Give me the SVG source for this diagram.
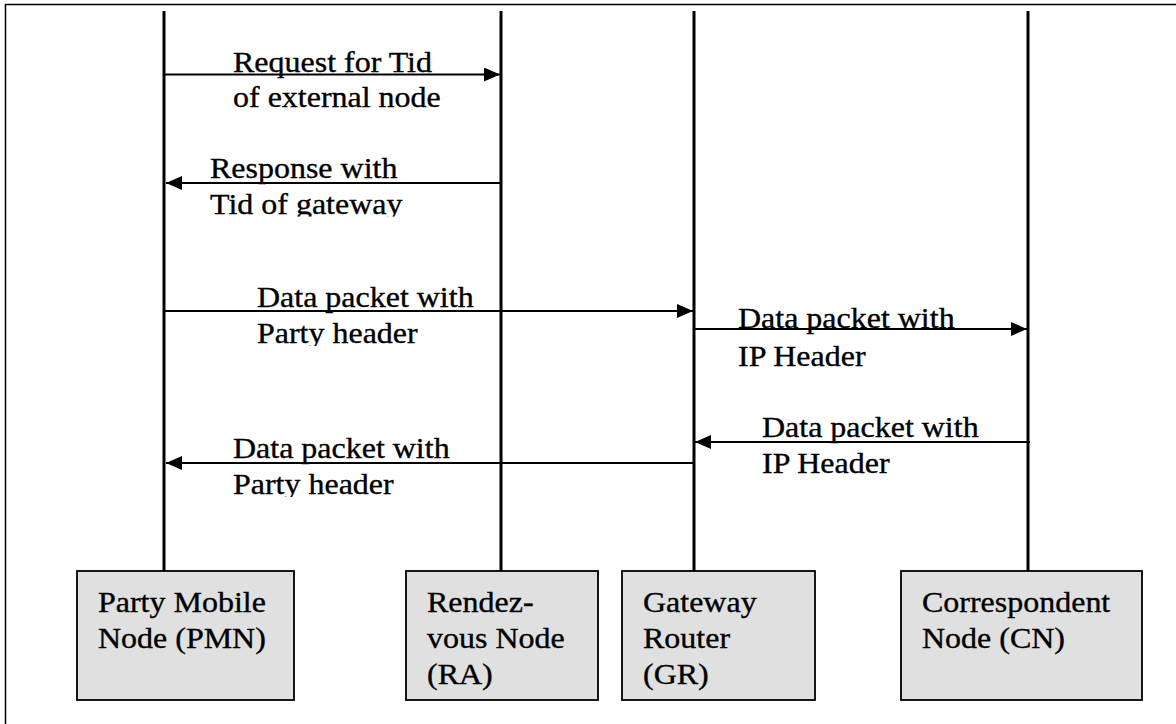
<svg xmlns="http://www.w3.org/2000/svg" width="1176" height="724" viewBox="0 0 1176 724">
  <style>
    .frame { fill: none; stroke: #000; stroke-width: 1.5; }
    .life { stroke: #000; stroke-width: 3; }
    .box { fill: #e0e0e0; stroke: #000; stroke-width: 1.8; }
    .msg { stroke: #000; stroke-width: 2; fill: none; marker-end: url(#head); }
    .t { font-family: "Liberation Serif", "Times New Roman", serif; font-size: 30px; fill: #000; stroke: #000; stroke-width: 0.35; }
  </style>
  <defs>
    <marker id="head" markerUnits="userSpaceOnUse" markerWidth="16" markerHeight="14" refX="16" refY="7" orient="auto">
      <path d="M0,0 L16,7 L0,14 z" fill="#000"/>
    </marker>
    <!-- label boxes that cut off the last text line -->
    <clipPath id="clipResp"><rect x="150" y="140" width="340" height="76.5"/></clipPath>
    <clipPath id="clipPartyA"><rect x="200" y="270" width="300" height="76"/></clipPath>
    <clipPath id="clipPartyB"><rect x="200" y="420" width="300" height="77"/></clipPath>
  </defs>

  <rect class="frame" x="5.5" y="4.5" width="1300" height="900"/>

  <!-- participants: lifeline + box -->
  <g id="pmn">
    <line class="life" x1="164" y1="11" x2="164" y2="571"/>
    <rect class="box" x="77" y="571" width="217" height="129"/>
    <text class="t" transform="matrix(1.066 0 0 1 98 612)">Party Mobile</text>
    <text class="t" transform="matrix(1.066 0 0 1 98 648)">Node (PMN)</text>
  </g>
  <g id="ra">
    <line class="life" x1="501" y1="11" x2="501" y2="571"/>
    <rect class="box" x="406" y="571" width="192" height="129"/>
    <text class="t" transform="matrix(1.066 0 0 1 427 612)">Rendez-</text>
    <text class="t" transform="matrix(1.066 0 0 1 427 648)">vous Node</text>
    <text class="t" transform="matrix(1.066 0 0 1 427 684)">(RA)</text>
  </g>
  <g id="gr">
    <line class="life" x1="694" y1="11" x2="694" y2="571"/>
    <rect class="box" x="622" y="571" width="193" height="129"/>
    <text class="t" transform="matrix(1.066 0 0 1 643 612)">Gateway</text>
    <text class="t" transform="matrix(1.066 0 0 1 643 648)">Router</text>
    <text class="t" transform="matrix(1.066 0 0 1 643 684)">(GR)</text>
  </g>
  <g id="cn">
    <line class="life" x1="1028" y1="11" x2="1028" y2="571"/>
    <rect class="box" x="901" y="571" width="241" height="129"/>
    <text class="t" transform="matrix(1.066 0 0 1 922 612)">Correspondent</text>
    <text class="t" transform="matrix(1.066 0 0 1 922 648)">Node (CN)</text>
  </g>

  <!-- messages -->
  <g id="connectors">
    <line class="msg" x1="165" y1="74.5" x2="500" y2="74.5"/>
    <text class="t" transform="matrix(1.066 0 0 1 233 72)">Request for Tid</text>
    <text class="t" transform="matrix(1.066 0 0 1 233 107)">of external node</text>

    <line class="msg" x1="501" y1="183" x2="166" y2="183"/>
    <g clip-path="url(#clipResp)">
      <text class="t" transform="matrix(1.066 0 0 1 210 178)">Response with</text>
      <text class="t" transform="matrix(1.066 0 0 1 210 214)">Tid of gateway</text>
    </g>

    <line class="msg" x1="165" y1="311" x2="693" y2="311"/>
    <g clip-path="url(#clipPartyA)">
      <text class="t" transform="matrix(1.066 0 0 1 257 307)">Data packet with</text>
      <text class="t" transform="matrix(1.066 0 0 1 257 343)">Party header</text>
    </g>

    <line class="msg" x1="695" y1="329" x2="1027" y2="329"/>
    <text class="t" transform="matrix(1.066 0 0 1 738 328)">Data packet with</text>
    <text class="t" transform="matrix(1.066 0 0 1 738 366)">IP Header</text>

    <line class="msg" x1="1030" y1="442" x2="695" y2="442"/>
    <text class="t" transform="matrix(1.066 0 0 1 762 437)">Data packet with</text>
    <text class="t" transform="matrix(1.066 0 0 1 762 473)">IP Header</text>

    <line class="msg" x1="694" y1="463" x2="166" y2="463"/>
    <g clip-path="url(#clipPartyB)">
      <text class="t" transform="matrix(1.066 0 0 1 233 458)">Data packet with</text>
      <text class="t" transform="matrix(1.066 0 0 1 233 494)">Party header</text>
    </g>
  </g>
</svg>
